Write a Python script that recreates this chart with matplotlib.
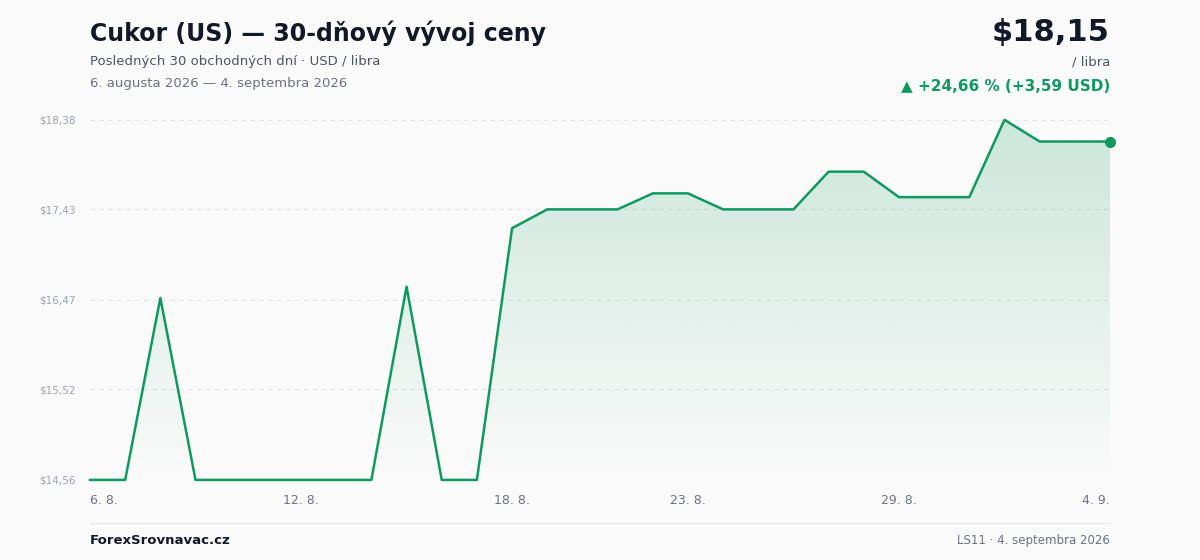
import matplotlib
matplotlib.use("Agg")
import matplotlib.pyplot as plt
import numpy as np
from matplotlib.patches import Polygon
from matplotlib.colors import LinearSegmentedColormap

values = [14.56, 14.56, 16.49, 14.56, 14.56, 14.56, 14.56, 14.56, 14.56, 16.61,
          14.56, 14.56, 17.23, 17.43, 17.43, 17.43, 17.60, 17.60, 17.43, 17.43,
          17.43, 17.83, 17.83, 17.56, 17.56, 17.56, 18.38, 18.15, 18.15, 18.15]
tick_idx = [0, 6, 12, 17, 23, 29]
tick_labels = ["6. 8.", "12. 8.", "18. 8.", "23. 8.", "29. 8.", "4. 9."]
yticks = [14.56, 15.52, 16.47, 17.43, 18.38]
ytick_labels = ["$14,56", "$15,52", "$16,47", "$17,43", "$18,38"]

green = "#0f9960"
bg = "#fafafa"
fig = plt.figure(figsize=(12, 5.6), dpi=100, facecolor=bg)
ax = fig.add_axes([0.075, 0.143, 0.85, 0.643], facecolor=bg)
x = np.arange(len(values))
ymin, ymax = 14.56, 18.38
ax.set_xlim(0, len(values) - 1)
ax.set_ylim(ymin, ymax)

grad = np.linspace(0, 1, 256).reshape(-1, 1)
cmap = LinearSegmentedColormap.from_list("g", [(0.06, 0.6, 0.38, 0.0), (0.06, 0.6, 0.38, 0.2)])
im = ax.imshow(grad, aspect="auto", cmap=cmap, extent=[0, len(values) - 1, ymax, ymin],
               origin="upper", zorder=1)
poly = Polygon(np.column_stack([np.r_[x, x[-1], x[0]], np.r_[values, ymin, ymin]]),
               closed=True, transform=ax.transData, facecolor="none", edgecolor="none")
ax.add_patch(poly)
im.set_clip_path(poly)
ax.set_ylim(ymin, ymax)

for yt in yticks:
    ax.axhline(yt, color="#e3e6ea", lw=0.8, ls=(0, (4, 4)), zorder=0)
ax.plot(x, values, color=green, lw=1.8, zorder=3, clip_on=False)
ax.plot([x[-1]], [values[-1]], "o", color=green, ms=7, zorder=4, clip_on=False)

for s in ax.spines.values():
    s.set_visible(False)
ax.set_xticks(tick_idx)
ax.set_xticklabels(tick_labels, color="#6b7280", fontsize=9)
ax.tick_params(axis="x", length=0, pad=10)
ax.set_yticks(yticks)
ax.set_yticklabels(ytick_labels, color="#9aa3b2", fontsize=7.5)
ax.tick_params(axis="y", length=0, pad=10)
ax.get_xticklabels()[0].set_ha("left")
ax.get_xticklabels()[-1].set_ha("right")

fig.text(0.075, 0.94, "Cukor (US) — 30-dňový vývoj ceny", fontsize=17, fontweight="bold",
         color="#111827", va="center")
fig.text(0.075, 0.89, "Posledných 30 obchodných dní · USD / libra", fontsize=9.5, color="#4b5563", va="center")
fig.text(0.075, 0.851, "6. augusta 2026 — 4. septembra 2026", fontsize=9.5, color="#6b7280", va="center")
fig.text(0.925, 0.942, "$18,15", fontsize=22, fontweight="bold", color="#111827", ha="right", va="center")
fig.text(0.925, 0.89, "/ libra", fontsize=9.5, color="#4b5563", ha="right", va="center")
fig.text(0.925, 0.845, "▲ +24,66 % (+3,59 USD)", fontsize=11, fontweight="bold", color=green,
         ha="right", va="center")

fig.add_artist(plt.Line2D([0.075, 0.925], [0.066, 0.066], color="#e5e7eb", lw=0.8))
fig.text(0.075, 0.034, "ForexSrovnavac.cz", fontsize=9.5, fontweight="bold", color="#111827", va="center")
fig.text(0.925, 0.034, "LS11 · 4. septembra 2026", fontsize=8.5, color="#6b7280", ha="right", va="center")

fig.savefig("out.png", dpi=100, facecolor=bg)
